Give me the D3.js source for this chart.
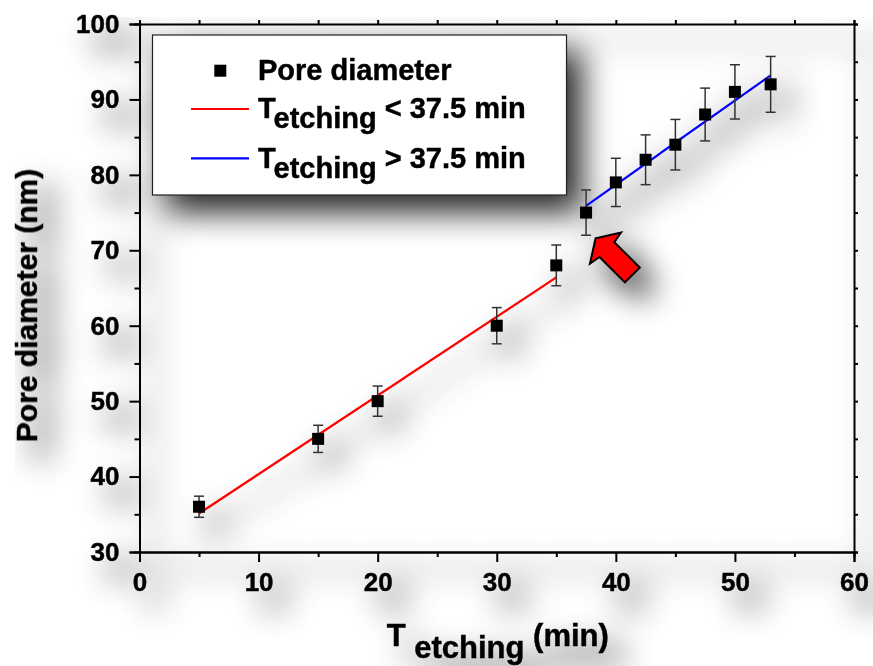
<!DOCTYPE html>
<html>
<head>
<meta charset="utf-8">
<script src="https://cdn.jsdelivr.net/npm/d3@7/dist/d3.min.js"></script>
<style>
  html, body { margin: 0; padding: 0; background: #ffffff; }
  svg { display: block; }
  text { font-family: "Liberation Sans", Arial, sans-serif; font-weight: bold; fill: #000; stroke: #000; stroke-width: 0.45px; white-space: pre; }
</style>
</head>
<body>
<svg id="chart" width="873" height="666"></svg>
<script>
// ---------- data ----------
const etchingTime = [5, 15, 20, 30, 35, 37.5, 40, 42.5, 45, 47.5, 50, 53];
const poreDiameter = [36, 45, 50, 60, 68, 75, 79, 82, 84, 88, 91, 92];
const poreError = [1.4, 1.8, 2.0, 2.4, 2.7, 3.0, 3.2, 3.3, 3.35, 3.5, 3.6, 3.7];
// linear fit segments
const fitBelowX = [5, 35];
const fitBelowY = [35.1, 66.4];
const fitAboveX = [37.5, 53];
const fitAboveY = [75.9, 93.2];
const xTicks = [0, 10, 20, 30, 40, 50, 60];
const yTicks = [30, 40, 50, 60, 70, 80, 90, 100];
const xMinorTicks = [5, 15, 25, 35, 45, 55];
const yMinorTicks = [35, 45, 55, 65, 75, 85, 95];
const arrowTip = [38.3, 71.6];
const legendLabels = ["Pore diameter", "< 37.5 min", "> 37.5 min"];

// ---------- layout ----------
const W = 873, H = 666;
const margin = {left: 139.5, right: 19, top: 24, bottom: 114};
const x = d3.scaleLinear().domain([0, 60]).range([margin.left, W - margin.right]);
const y = d3.scaleLinear().domain([30, 100]).range([H - margin.bottom, margin.top]);

const svg = d3.select("#chart");
const defs = svg.append("defs");
const f = defs.append("filter").attr("id", "shadow")
  .attr("filterUnits", "userSpaceOnUse").attr("x", 0).attr("y", 0).attr("width", W).attr("height", H);
f.append("feGaussianBlur").attr("in", "SourceAlpha").attr("stdDeviation", 16).attr("result", "b");
f.append("feOffset").attr("in", "b").attr("dx", 15).attr("dy", 17).attr("result", "o");
const ct = f.append("feComponentTransfer").attr("in", "o").attr("result", "s");
ct.append("feFuncA").attr("type", "linear").attr("slope", 0.85);
const fm = f.append("feMerge");
fm.append("feMergeNode").attr("in", "s");
fm.append("feMergeNode").attr("in", "SourceGraphic");

const g = svg.append("g").attr("filter", "url(#shadow)");

// ---------- axes ----------
const x0 = x.range()[0], x1 = x.range()[1], y0 = y.range()[0], y1 = y.range()[1];

g.append("g").attr("transform", `translate(0,${y0})`)
  .call(d3.axisBottom(x).tickValues(xTicks).tickSize(10).tickPadding(11).tickFormat(d3.format("d")));
g.append("g").attr("transform", `translate(0,${y0})`)
  .call(d3.axisBottom(x).tickValues(xMinorTicks).tickSize(5).tickFormat(""));
g.append("g").attr("transform", `translate(${x0},0)`)
  .call(d3.axisLeft(y).tickValues(yTicks).tickSize(10).tickPadding(10).tickFormat(d3.format("d")));
g.append("g").attr("transform", `translate(${x0},0)`)
  .call(d3.axisLeft(y).tickValues(yMinorTicks).tickSize(5).tickFormat(""));
// top & right frame
g.append("g").attr("transform", `translate(0,${y1})`)
  .call(d3.axisTop(x).tickValues(xTicks.concat(xMinorTicks)).tickSize(4).tickFormat(""));
g.append("g").attr("transform", `translate(${x1},0)`)
  .call(d3.axisRight(y).tickValues(yTicks.concat(yMinorTicks)).tickSize(4).tickFormat(""));

g.selectAll(".domain").attr("stroke", "#000").attr("stroke-width", 2);
g.selectAll(".tick line").attr("stroke", "#000").attr("stroke-width", 2);
g.selectAll(".tick text").style("font-size", "26px").attr("fill", "#000");

// ---------- axis titles ----------
const xt = g.append("text").attr("x", (x0 + x1) / 2 + 1).attr("y", 646)
  .attr("text-anchor", "middle").style("font-size", "31px");
xt.append("tspan").text("T");
xt.append("tspan").attr("dy", 12).text(" etching");
xt.append("tspan").attr("dy", -12).text(" (min)");

g.append("text").attr("transform", "translate(37,305.5) rotate(-90)")
  .attr("text-anchor", "middle").style("font-size", "30px").text("Pore diameter (nm)");

// ---------- fit lines ----------
const line = d3.line().x(d => x(d[0])).y(d => y(d[1]));
g.append("path").datum(d3.zip(fitBelowX, fitBelowY)).attr("d", line)
  .attr("fill", "none").attr("stroke", "#ff0000").attr("stroke-width", 2.2);
g.append("path").datum(d3.zip(fitAboveX, fitAboveY)).attr("d", line)
  .attr("fill", "none").attr("stroke", "#0000ff").attr("stroke-width", 2.2);

// ---------- error bars + points ----------
const pts = etchingTime.map((t, i) => ({t, d: poreDiameter[i], e: poreError[i]}));
const eb = g.append("g").attr("stroke", "#333").attr("stroke-width", 1.5).attr("fill", "none");
pts.forEach(p => {
  eb.append("line").attr("x1", x(p.t)).attr("x2", x(p.t)).attr("y1", y(p.d - p.e)).attr("y2", y(p.d + p.e));
  eb.append("line").attr("x1", x(p.t) - 5).attr("x2", x(p.t) + 5).attr("y1", y(p.d - p.e)).attr("y2", y(p.d - p.e));
  eb.append("line").attr("x1", x(p.t) - 5).attr("x2", x(p.t) + 5).attr("y1", y(p.d + p.e)).attr("y2", y(p.d + p.e));
});
g.append("g").selectAll("rect").data(pts).join("rect")
  .attr("x", p => x(p.t) - 6).attr("y", p => y(p.d) - 6)
  .attr("width", 12).attr("height", 12).attr("fill", "#000");

// ---------- arrow ----------
const arrowShape = [[0,0],[14,22],[16,10.5],[52,10.5],[52,-10.5],[16,-10.5],[14,-22]];
g.append("path")
  .attr("transform", `translate(${x(arrowTip[0])},${y(arrowTip[1])}) rotate(45)`)
  .attr("d", d3.line()(arrowShape) + "Z")
  .attr("fill", "#ff0000").attr("stroke", "#000").attr("stroke-width", 2).attr("stroke-linejoin", "miter");

// ---------- legend ----------
const lg = g.append("g");
lg.append("rect").attr("x", 152.5).attr("y", 35).attr("width", 414).attr("height", 160)
  .attr("fill", "#fff").attr("stroke", "#222").attr("stroke-width", 1.2);
lg.append("rect").attr("x", 214.3).attr("y", 64.7).attr("width", 12).attr("height", 12)
  .attr("fill", "#000");
lg.append("text").attr("x", 258).attr("y", 80).style("font-size", "29px").text(legendLabels[0]);
const rows = [{c: "#ff0000", ly: 109, ty: 118.3, lab: legendLabels[1]},
              {c: "#0000ff", ly: 158.3, ty: 167.7, lab: legendLabels[2]}];
rows.forEach(r => {
  lg.append("line").attr("x1", 191).attr("x2", 249).attr("y1", r.ly).attr("y2", r.ly)
    .attr("stroke", r.c).attr("stroke-width", 2.2);
  const t = lg.append("text").attr("x", 258).attr("y", r.ty).style("font-size", "29px");
  t.append("tspan").text("T");
  t.append("tspan").attr("dy", 10).text("etching");
  t.append("tspan").attr("dy", -10).text(" " + r.lab);
});
</script>
</body>
</html>
